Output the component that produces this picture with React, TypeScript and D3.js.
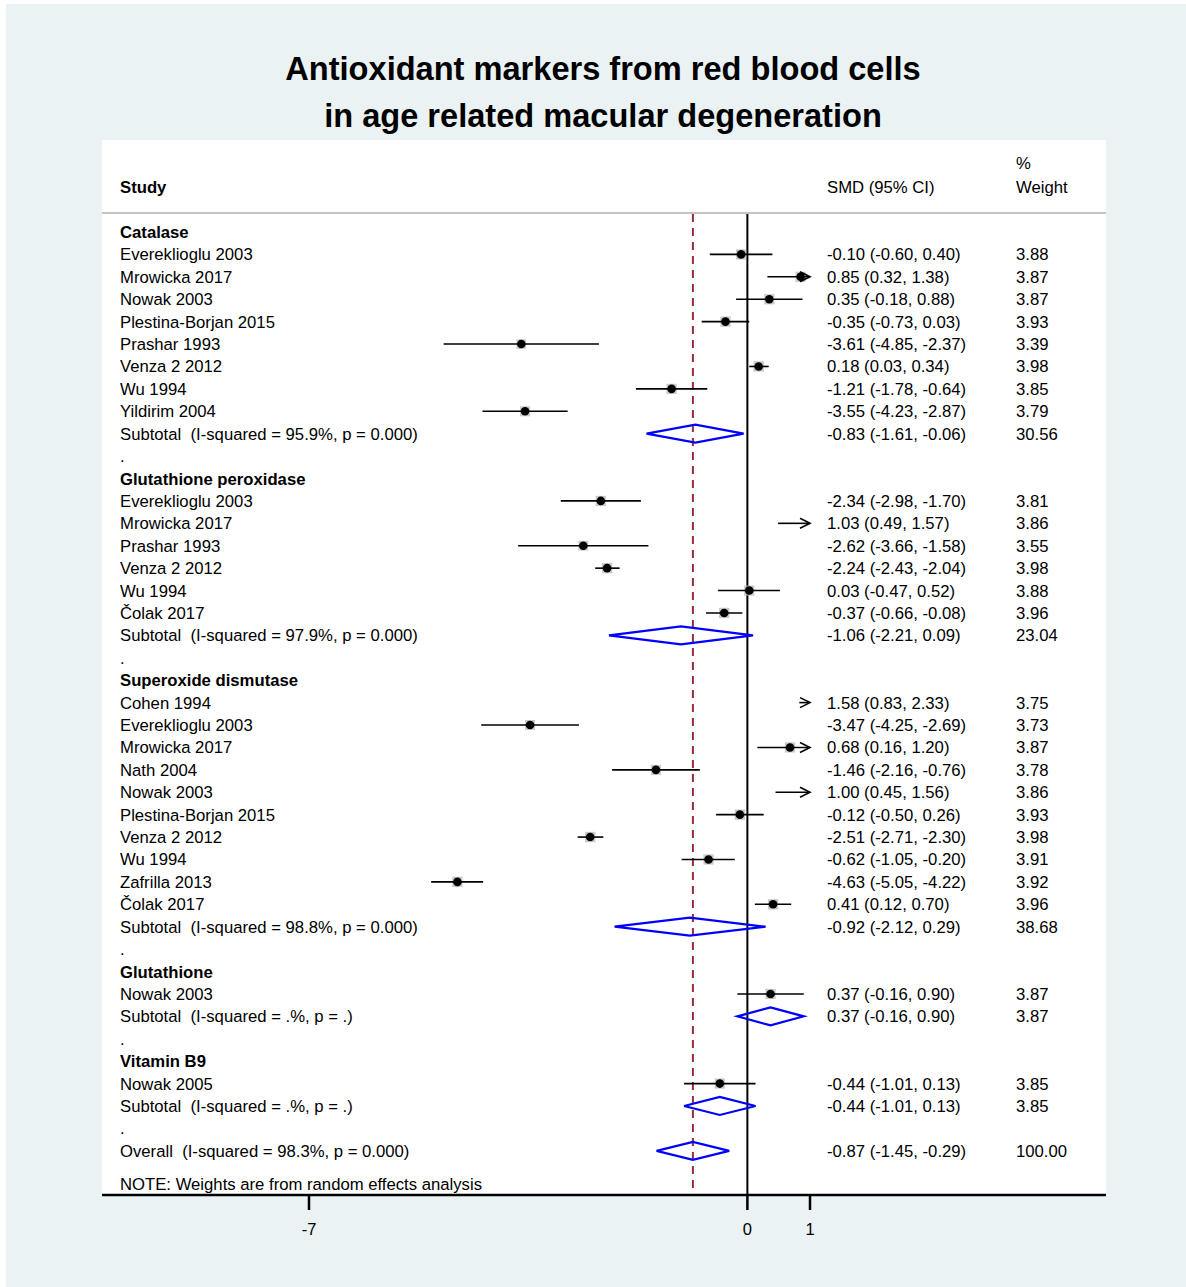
import React from "react";
import * as d3 from "d3";

type Row = { kind: "head" | "study" | "sub" | "blank" | "overall"; label: string; es?: number; lo?: number; hi?: number; w?: string; ci?: string };

const groups = ["Catalase", "Glutathione peroxidase", "Superoxide dismutase", "Glutathione", "Vitamin B9"];

const catalaseStudies = ["Evereklioglu 2003", "Mrowicka 2017", "Nowak 2003", "Plestina-Borjan 2015", "Prashar 1993", "Venza 2 2012", "Wu 1994", "Yildirim 2004"];
const catalaseES = [-0.10, 0.85, 0.35, -0.35, -3.61, 0.18, -1.21, -3.55];
const catalaseLo = [-0.60, 0.32, -0.18, -0.73, -4.85, 0.03, -1.78, -4.23];
const catalaseHi = [0.40, 1.38, 0.88, 0.03, -2.37, 0.34, -0.64, -2.87];
const catalaseW = ["3.88", "3.87", "3.87", "3.93", "3.39", "3.98", "3.85", "3.79"];

const gpxStudies = ["Evereklioglu 2003", "Mrowicka 2017", "Prashar 1993", "Venza 2 2012", "Wu 1994", "Čolak 2017"];
const gpxES = [-2.34, 1.03, -2.62, -2.24, 0.03, -0.37];
const gpxLo = [-2.98, 0.49, -3.66, -2.43, -0.47, -0.66];
const gpxHi = [-1.70, 1.57, -1.58, -2.04, 0.52, -0.08];
const gpxW = ["3.81", "3.86", "3.55", "3.98", "3.88", "3.96"];

const sodStudies = ["Cohen 1994", "Evereklioglu 2003", "Mrowicka 2017", "Nath 2004", "Nowak 2003", "Plestina-Borjan 2015", "Venza 2 2012", "Wu 1994", "Zafrilla 2013", "Čolak 2017"];
const sodES = [1.58, -3.47, 0.68, -1.46, 1.004, -0.12, -2.51, -0.62, -4.63, 0.41];
const sodLo = [0.83, -4.25, 0.16, -2.16, 0.45, -0.50, -2.71, -1.05, -5.05, 0.12];
const sodHi = [2.33, -2.69, 1.20, -0.76, 1.56, 0.26, -2.30, -0.20, -4.22, 0.70];
const sodW = ["3.75", "3.73", "3.87", "3.78", "3.86", "3.93", "3.98", "3.91", "3.92", "3.96"];

const gshStudies = ["Nowak 2003"];
const gshES = [0.37];
const gshLo = [-0.16];
const gshHi = [0.90];
const gshW = ["3.87"];

const b9Studies = ["Nowak 2005"];
const b9ES = [-0.44];
const b9Lo = [-1.01];
const b9Hi = [0.13];
const b9W = ["3.85"];

const subLabels = [
  "Subtotal  (I-squared = 95.9%, p = 0.000)",
  "Subtotal  (I-squared = 97.9%, p = 0.000)",
  "Subtotal  (I-squared = 98.8%, p = 0.000)",
  "Subtotal  (I-squared = .%, p = .)",
  "Subtotal  (I-squared = .%, p = .)",
];
const subES = [-0.83, -1.06, -0.92, 0.37, -0.44];
const subLo = [-1.61, -2.21, -2.12, -0.16, -1.01];
const subHi = [-0.06, 0.09, 0.29, 0.90, 0.13];
const subW = ["30.56", "23.04", "38.68", "3.87", "3.85"];

const overallLabel = "Overall  (I-squared = 98.3%, p = 0.000)";
const overallES = -0.87;
const overallLo = -1.45;
const overallHi = -0.29;
const overallW = "100.00";

const xTicks = [-7, 0, 1];

const fmt = (v: number) => (Math.round(v * 100) / 100).toFixed(2);
const ciText = (e: number, l: number, h: number) => `${fmt(e)} (${fmt(l)}, ${fmt(h)})`;

function buildRows(): Row[] {
  const sets = [
    [catalaseStudies, catalaseES, catalaseLo, catalaseHi, catalaseW],
    [gpxStudies, gpxES, gpxLo, gpxHi, gpxW],
    [sodStudies, sodES, sodLo, sodHi, sodW],
    [gshStudies, gshES, gshLo, gshHi, gshW],
    [b9Studies, b9ES, b9Lo, b9Hi, b9W],
  ] as [string[], number[], number[], number[], string[]][];
  const rows: Row[] = [];
  sets.forEach(([names, es, lo, hi, w], g) => {
    rows.push({ kind: "head", label: groups[g] });
    names.forEach((n, i) => rows.push({ kind: "study", label: n, es: es[i], lo: lo[i], hi: hi[i], w: w[i], ci: ciText(es[i], lo[i], hi[i]) }));
    rows.push({ kind: "sub", label: subLabels[g], es: subES[g], lo: subLo[g], hi: subHi[g], w: subW[g], ci: ciText(subES[g], subLo[g], subHi[g]) });
    rows.push({ kind: "blank", label: "." });
  });
  rows.push({ kind: "overall", label: overallLabel, es: overallES, lo: overallLo, hi: overallHi, w: overallW, ci: ciText(overallES, overallLo, overallHi) });
  return rows;
}

export default function App() {
  const W = 1186, H = 1287;
  const rows = buildRows();
  const x = d3.scaleLinear().domain([-7, 1]).range([309, 810]);
  const y = d3.scaleLinear().domain([0, 1]).range([232, 254.41]);
  const panel = { x0: 102, x1: 1106, y0: 140, y1: 1195 };
  const font = "Liberation Sans, Arial, Helvetica, sans-serif";
  const clipMax = 1, clipMin = -7;
  const txtLabel = 120, txtCI = 827, txtW = 1016;
  const diamondH = 9;
  const fs = 16.7;

  return (
    <svg width={W} height={H} style={{ position: "absolute", left: 0, top: 0 }} fontFamily={font}>
      <rect x={0} y={0} width={W} height={H} fill="#ffffff" />
      <rect x={6} y={4} width={W - 6} height={H - 4} fill="#EAF2F3" />
      <rect x={panel.x0} y={panel.y0} width={panel.x1 - panel.x0} height={panel.y1 - panel.y0} fill="#ffffff" />
      <text x={603} y={80} textAnchor="middle" fontSize={32.6} fontWeight="bold" fill="#000">Antioxidant markers from red blood cells</text>
      <text x={603} y={127} textAnchor="middle" fontSize={32.6} fontWeight="bold" fill="#000">in age related macular degeneration</text>

      {/* header */}
      <text x={txtLabel} y={193} fontSize={fs} fontWeight="bold">Study</text>
      <text x={txtCI} y={193} fontSize={fs}>SMD (95% CI)</text>
      <text x={txtW} y={169} fontSize={fs}>%</text>
      <text x={txtW} y={193} fontSize={fs}>Weight</text>
      <line x1={panel.x0} x2={panel.x1} y1={213} y2={213} stroke="#C4C4C4" strokeWidth={2} />

      {/* reference lines */}
      <line x1={x(0)} x2={x(0)} y1={214} y2={panel.y1} stroke="#000" strokeWidth={2} />
      <line x1={x(overallES)} x2={x(overallES)} y1={214} y2={panel.y1} stroke="#9A2E3E" strokeWidth={2} strokeDasharray="8,6" />

      {rows.map((r, i) => {
        const yy = y(i);
        const items: React.ReactNode[] = [];
        const bold = r.kind === "head";
        items.push(
          <text key="l" x={txtLabel} y={yy} dy="0.36em" fontSize={fs} fontWeight={bold ? "bold" : "normal"} style={{ whiteSpace: "pre" }}>{r.label}</text>
        );
        if (r.ci) {
          items.push(<text key="c" x={txtCI} y={yy} dy="0.36em" fontSize={fs}>{r.ci}</text>);
          items.push(<text key="w" x={txtW} y={yy} dy="0.36em" fontSize={fs}>{r.w}</text>);
        }
        if (r.kind === "study") {
          const lo = Math.max(r.lo!, clipMin), hi = Math.min(r.hi!, clipMax);
          const clippedR = r.hi! > clipMax;
          const inRange = r.es! < clipMax && r.es! > clipMin;
          if (inRange) {
            const s = 5.2 * Math.sqrt(parseFloat(r.w!));
            items.push(<rect key="b" x={x(r.es!) - s / 2} y={yy - s / 2} width={s} height={s} fill="#B8B8B8" opacity={0.75} />);
          }
          items.push(<line key="ci" x1={x(lo)} x2={x(hi)} y1={yy} y2={yy} stroke="#000" strokeWidth={1.6} />);
          if (inRange) items.push(<circle key="d" cx={x(r.es!)} cy={yy} r={4.3} fill="#000" />);
          if (clippedR) {
            const ax = x(clipMax);
            items.push(<path key="a" d={`M${ax - 10},${yy - 5}L${ax},${yy}L${ax - 10},${yy + 5}`} fill="none" stroke="#000" strokeWidth={1.6} />);
          }
        }
        if (r.kind === "sub" || r.kind === "overall") {
          const pts = [[x(r.lo!), yy], [x(r.es!), yy - diamondH], [x(r.hi!), yy], [x(r.es!), yy + diamondH]];
          items.push(<path key="dm" d={d3.line()(pts as [number, number][])! + "Z"} fill="none" stroke="#0000FF" strokeWidth={2.2} />);
        }
        return <g key={i}>{items}</g>;
      })}

      <text x={txtLabel} y={1190} fontSize={fs}>NOTE: Weights are from random effects analysis</text>

      {/* x axis */}
      <line x1={panel.x0} x2={panel.x1} y1={1195} y2={1195} stroke="#000" strokeWidth={2.5} />
      {xTicks.map((t) => (
        <g key={t}>
          <line x1={x(t)} x2={x(t)} y1={1195} y2={1210} stroke="#000" strokeWidth={2.5} />
          <text x={x(t)} y={1235} textAnchor="middle" fontSize={16.5}>{t}</text>
        </g>
      ))}
    </svg>
  );
}
